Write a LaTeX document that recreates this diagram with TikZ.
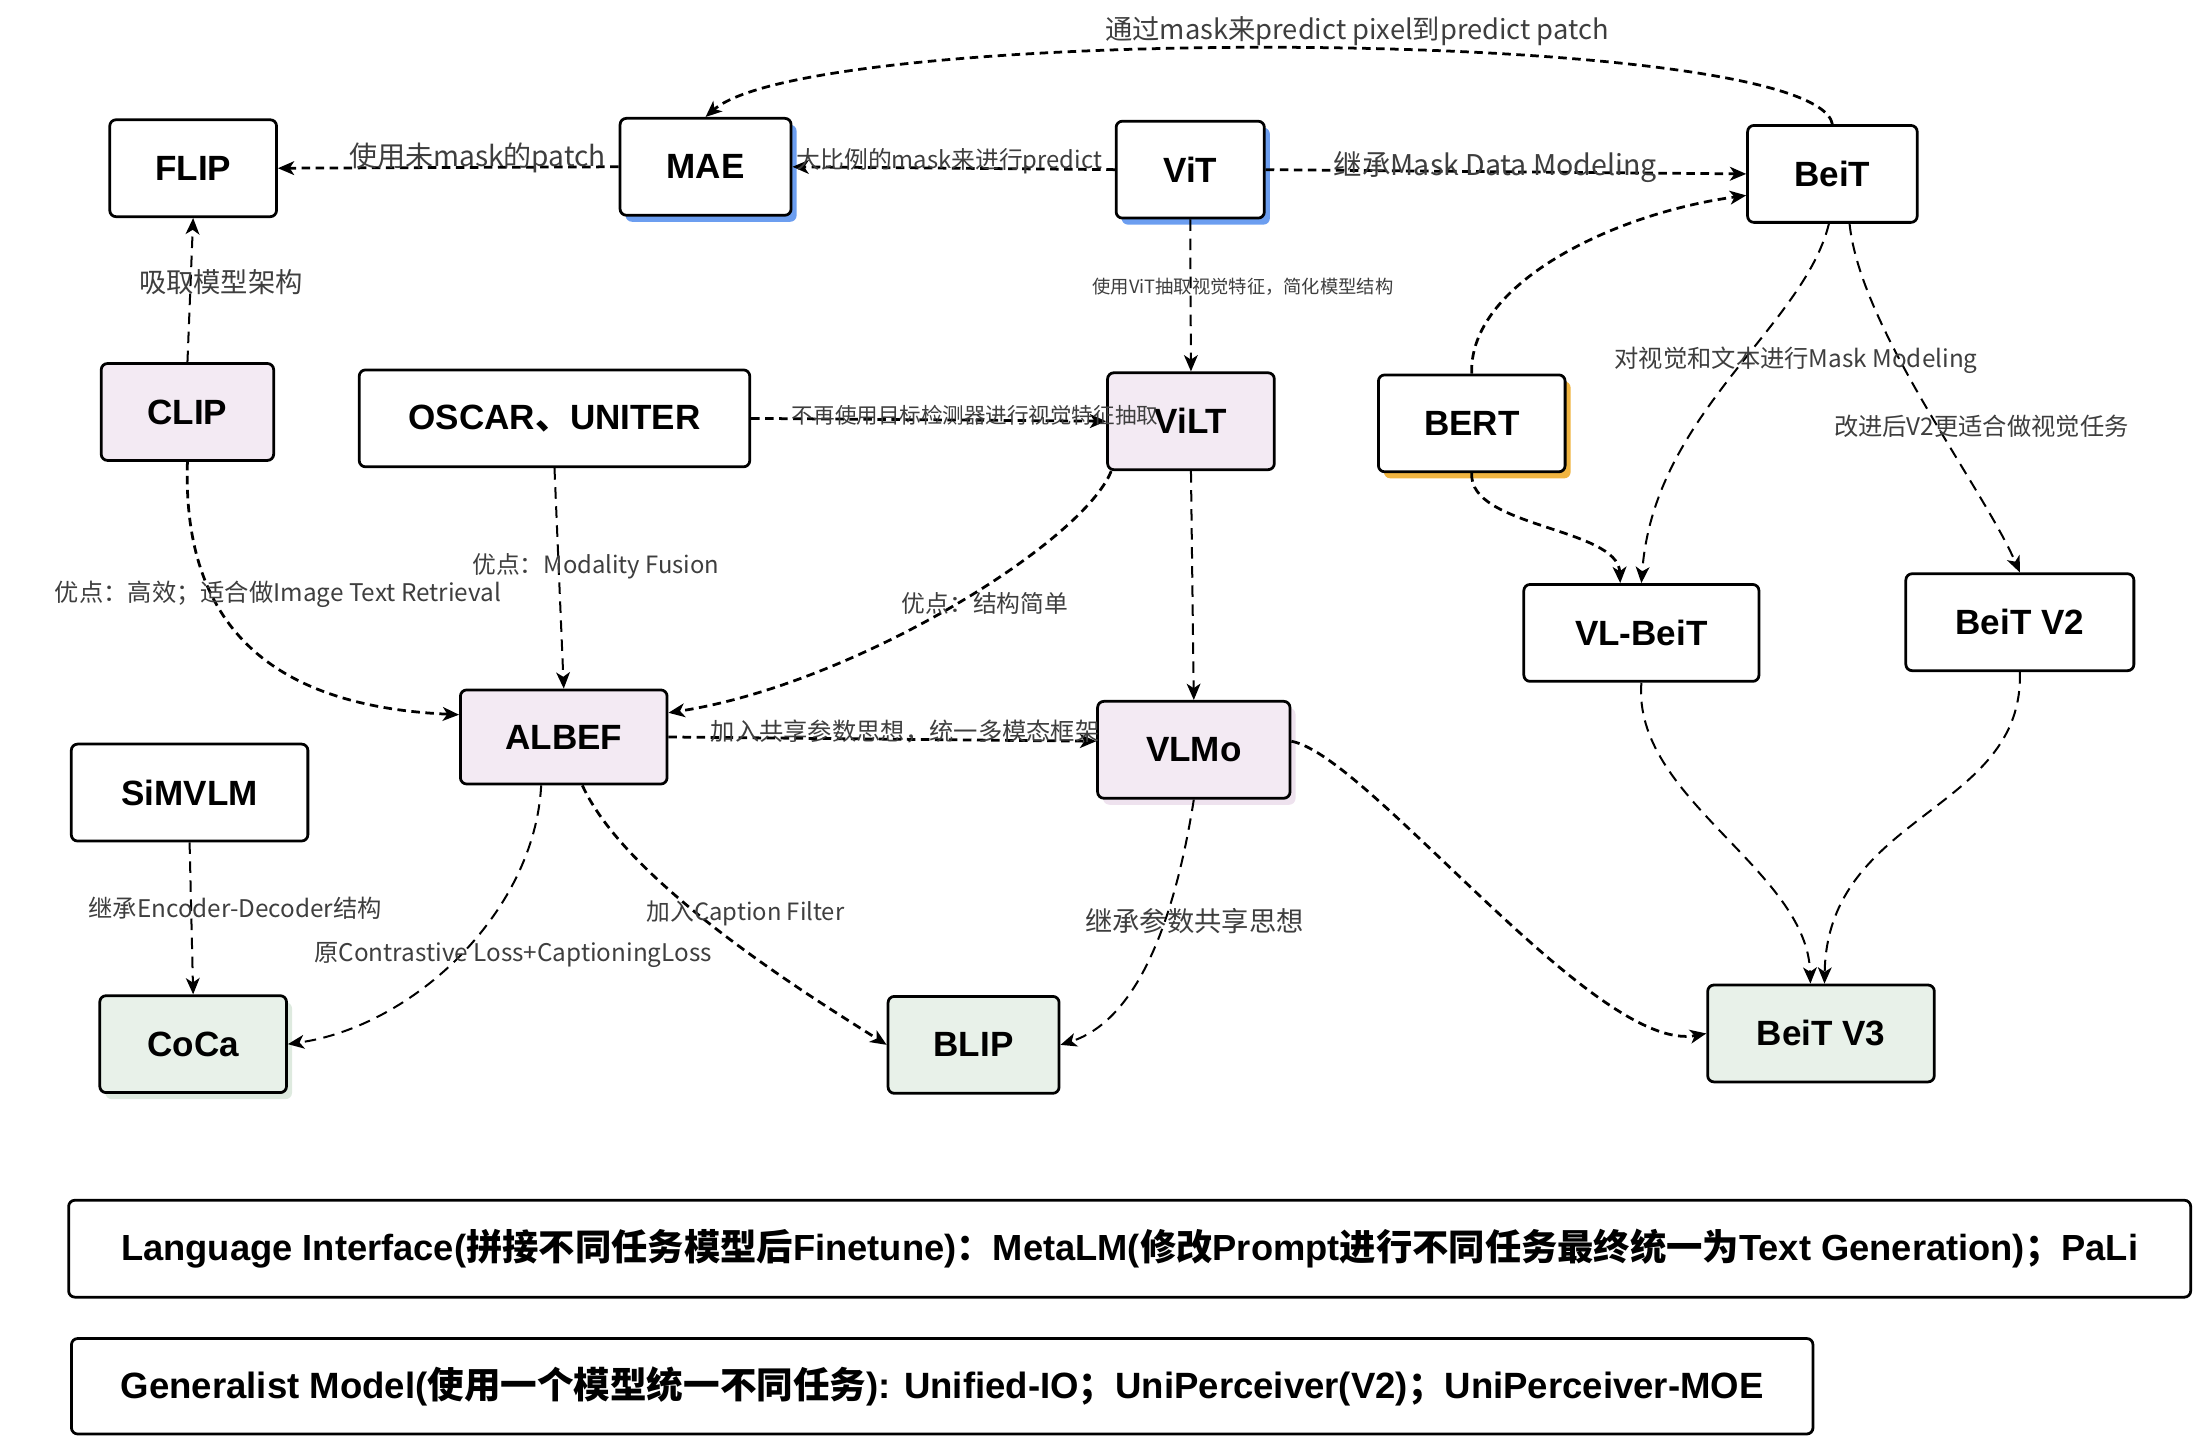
\documentclass[tikz,border=0pt]{standalone}
\usepackage{fontspec}
\setmainfont{Liberation Sans}
\newfontfamily\cjk{Noto Sans CJK SC}
\usetikzlibrary{arrows.meta,shadows}
\definecolor{pinkfill}{RGB}{243,234,243}
\definecolor{greenfill}{RGB}{232,241,233}
\definecolor{blueshade}{RGB}{108,158,240}
\definecolor{orangeshade}{RGB}{240,180,64}
\definecolor{greenshade}{RGB}{222,234,223}
\definecolor{pinkshade}{RGB}{238,226,238}
\definecolor{lblgray}{RGB}{62,62,62}
\newcommand\zh[1]{{\cjk\bfseries #1}}
\tikzset{
  model/.style={draw, line width=1.1pt, rounded corners=2.5pt, fill=white,
    minimum height=1.36cm, inner sep=0pt, font=\fontsize{14}{16}\selectfont\bfseries},
  vlfill/.style={model, fill=pinkfill},
  genfill/.style={model, fill=greenfill},
  bluesh/.style={general shadow={fill=blueshade, shadow xshift=2.2pt, shadow yshift=-2.6pt}},
  orangesh/.style={general shadow={fill=orangeshade, shadow xshift=2.2pt, shadow yshift=-2.6pt}},
  greensh/.style={general shadow={fill=greenshade, shadow xshift=2.2pt, shadow yshift=-2.6pt}},
  pinksh/.style={general shadow={fill=pinkshade, shadow xshift=2.2pt, shadow yshift=-2.6pt}},
  link/.style={line width=1.1pt, dash pattern=on 3.4pt off 2.2pt,
    -{Stealth[length=6.5pt,width=5.5pt,inset=1.8pt]}},
  thinlink/.style={line width=0.8pt, dash pattern=on 4.6pt off 3pt,
    -{Stealth[length=6.5pt,width=5.5pt,inset=1.8pt]}},
  lbl/.style={font=\cjk\fontsize{9.7}{11}\selectfont, text=lblgray, inner sep=0pt},
  biglbl/.style={lbl, font=\cjk\fontsize{10.9}{12}\selectfont},
}
\begin{document}
\begin{tikzpicture}[x=0.02cm, y=-0.02cm]
  \useasboundingbox (0,0) rectangle (1549,1009);
  \node[model, minimum width=2.34cm] (flip) at (135.5,118) {FLIP};
  \node[model, bluesh, minimum width=2.4cm] (mae) at (495,117) {MAE};
  \node[model, bluesh, minimum width=2.08cm] (vit) at (835,119) {ViT};
  \node[model, minimum width=2.38cm] (beit) at (1285.5,122) {BeiT};
  \node[vlfill, minimum width=2.42cm] (clip) at (131.5,289) {CLIP};
  \node[model, minimum width=5.48cm] (oscar) at (389,293.5) {OSCAR\zh{、}UNITER};
  \node[vlfill, minimum width=2.34cm] (vilt) at (835.5,295.5) {ViLT};
  \node[model, orangesh, minimum width=2.62cm] (bert) at (1032.5,297) {BERT};
  \node[model, minimum width=3.3cm] (vlbeit) at (1151.5,444) {VL-BeiT};
  \node[model, minimum width=3.2cm] (beitv2) at (1417,436.5) {BeiT V2};
  \node[vlfill, minimum width=2.9cm, minimum height=1.32cm] (albef) at (395.5,517) {ALBEF};
  \node[vlfill, pinksh, minimum width=2.7cm] (vlmo) at (837.5,526) {VLMo};
  \node[model, minimum width=3.32cm] (simvlm) at (133,556) {SiMVLM};
  \node[genfill, greensh, minimum width=2.62cm] (coca) at (135.5,732.5) {CoCa};
  \node[genfill, minimum width=2.4cm] (blip) at (683,733) {BLIP};
  \node[genfill, minimum width=3.18cm] (beitv3) at (1277.5,725) {BeiT V3};
  \node[model, minimum width=29.78cm, font=\fontsize{14.5}{16}\selectfont\bfseries] (langif) at (792.5,876)
    {Language Interface(\zh{拼接不同任务模型后}Finetune)\zh{：}MetaLM(\zh{修改}Prompt\zh{进行不同任务最终统一为}Text Generation)\zh{；}PaLi};
  \node[model, minimum width=24.44cm, minimum height=1.34cm, font=\fontsize{14.6}{16}\selectfont\bfseries] (generalist) at (661,972.5)
    {Generalist Model(\zh{使用一个模型统一不同任务}): Unified-IO\zh{；}UniPerceiver(V2)\zh{；}UniPerceiver-MOE};
  \begin{scope}[link]
    \draw (beit.north) .. controls (1272,18) and (570,16) .. (mae.north);
    \draw (mae.west) -- (flip.east);
    \draw (vit.west) -- (mae.east);
    \draw (vit.east) -- (beit.west);
    \draw (bert.north) .. controls (1030,200) and (1130,150) .. (beit.194);
    \draw (oscar.east) -- (vilt.west);
    \draw (clip.south) .. controls (128,430) and (180,495) .. (albef.168);
    \draw (vilt.212) .. controls (760,380) and (600,480) .. (albef.13);
    \draw (albef.east) -- (vlmo.175);
    \draw (albef.291) .. controls (440,620) and (570,700) .. (blip.west);
    \draw (vlmo.5) .. controls (960,530) and (1120,740) .. (beitv3.west);
    \draw (bert.south) .. controls (1030,370) and (1135,370) .. (vlbeit.113);
  \end{scope}
  \begin{scope}[thinlink]
    \draw (clip.north) -- (flip.south);
    \draw (vit.south) -- (vilt.north);
    \draw (oscar.south) -- (albef.north);
    \draw (vilt.south) -- (vlmo.north);
    \draw (simvlm.south) -- (coca.north);
    \draw (albef.245) .. controls (375,640) and (290,720) .. (coca.east);
    \draw (vlmo.south) .. controls (825,640) and (800,715) .. (blip.east);
    \draw (beit.266) .. controls (1265,230) and (1160,290) .. (vlbeit.north);
    \draw (beit.289) .. controls (1305,230) and (1390,340) .. (beitv2.north);
    \draw (vlbeit.south) .. controls (1145,560) and (1268,610) .. (beitv3.102);
    \draw (beitv2.south) .. controls (1420,570) and (1282,570) .. (beitv3.86);
  \end{scope}
  \node[biglbl] (lbeitmae) at (952,22) {通过mask来predict pixel到predict patch};
  \node[biglbl, font=\cjk\fontsize{11.2}{12}\selectfont] (lmaeflip) at (335,111) {使用未mask的patch};
  \node[lbl, font=\cjk\fontsize{9.5}{11}\selectfont] (lvitmae) at (666,113) {大比例的mask来进行predict};
  \node[biglbl, font=\cjk\fontsize{11.4}{12}\selectfont] (lvitbeit) at (1049,117) {继承Mask Data Modeling};
  \node[biglbl] (lclipflip) at (155,198) {吸取模型架构};
  \node[lbl, font=\cjk\fontsize{7.3}{8}\selectfont] (lvitvilt) at (872,201) {使用ViT抽取视觉特征，简化模型结构};
  \node[lbl, font=\cjk\fontsize{8.6}{10}\selectfont] (loscarvilt) at (684,291) {不再使用目标检测器进行视觉特征抽取};
  \node[lbl] (lclipalbef) at (195,417) {优点：高效；适合做Image Text Retrieval};
  \node[lbl, font=\cjk\fontsize{9.5}{11}\selectfont] (loscaralbef) at (418,397) {优点：Modality Fusion};
  \node[lbl, font=\cjk\fontsize{9.5}{11}\selectfont] (lviltalbef) at (691,423) {优点：结构简单};
  \node[lbl] (lalbefvlmo) at (635,513) {加入共享参数思想，统一多模态框架};
  \node[lbl] (lalbefcoca) at (360,670) {原Contrastive Loss+CaptioningLoss};
  \node[lbl, font=\cjk\fontsize{9.5}{11}\selectfont] (lalbefblip) at (523,641) {加入Caption Filter};
  \node[biglbl] (lvlmoblip) at (838,646) {继承参数共享思想};
  \node[lbl] (lsimcoca) at (165,637) {继承Encoder-Decoder结构};
  \node[lbl] (lbeitvl) at (1260,253) {对视觉和文本进行Mask Modeling};
  \node[lbl] (lbeitv2) at (1390,299) {改进后V2更适合做视觉任务};
\end{tikzpicture}
\end{document}
